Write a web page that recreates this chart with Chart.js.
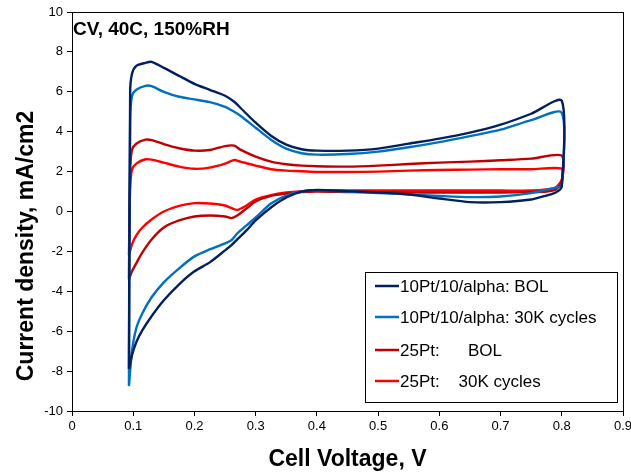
<!DOCTYPE html>
<html>
<head>
<meta charset="utf-8">
<script src="https://cdn.jsdelivr.net/npm/chart.js@4.4.1/dist/chart.umd.min.js"></script>
<style>
  html, body { margin: 0; padding: 0; background: #ffffff; }
  #wrap { width: 631px; height: 472px; position: relative; }
</style>
</head>
<body>
<div id="wrap"><canvas id="cv" width="631" height="472"></canvas></div>
<script>
// Axis ticks
const X_TICKS = [0, 0.1, 0.2, 0.3, 0.4, 0.5, 0.6, 0.7, 0.8, 0.9];
const X_TICK_LABELS = ['0', '0.1', '0.2', '0.3', '0.4', '0.5', '0.6', '0.7', '0.8', '0.9'];
const Y_TICKS = [-10, -8, -6, -4, -2, 0, 2, 4, 6, 8, 10];
const Y_TICK_LABELS = ['-10', '-8', '-6', '-4', '-2', '0', '2', '4', '6', '8', '10'];

// Series names
const SERIES = ['10Pt/10/alpha: BOL', '10Pt/10/alpha: 30K cycles', '25Pt:      BOL', '25Pt:    30K cycles'];
const COLORS = ['#002060', '#0070C0', '#C00000', '#FF0000'];

// Sweep voltages (V): anodic sweep up, then cathodic sweep back down
const V_UP = [0.093, 0.095, 0.098, 0.105, 0.12, 0.13, 0.15, 0.175, 0.2, 0.225, 0.25, 0.265, 0.275, 0.3, 0.325, 0.35, 0.375, 0.4, 0.45, 0.5, 0.55, 0.6, 0.65, 0.7, 0.75, 0.8];
const V_DOWN = [0.8, 0.79, 0.775, 0.75, 0.7, 0.65, 0.6, 0.55, 0.5, 0.45, 0.4, 0.375, 0.35, 0.325, 0.3, 0.285, 0.27, 0.26, 0.25, 0.225, 0.2, 0.175, 0.15, 0.13, 0.115, 0.105, 0.098, 0.093];

// Current density (mA/cm2), 10Pt/10/alpha BOL
const I_10PT_BOL_UP = [-7.9, 6.0, 6.9, 7.3, 7.45, 7.5, 7.2, 6.8, 6.4, 6.1, 5.8, 5.5, 5.2, 4.45, 3.8, 3.35, 3.12, 3.05, 3.05, 3.15, 3.4, 3.65, 3.95, 4.35, 4.9, 5.55];
const I_10PT_BOL_DOWN = [1.25, 0.95, 0.8, 0.6, 0.47, 0.47, 0.65, 0.85, 0.95, 1.02, 1.08, 1.0, 0.7, 0.2, -0.45, -0.95, -1.4, -1.7, -1.95, -2.55, -3.0, -3.65, -4.45, -5.25, -5.95, -6.55, -7.2, -7.9];

// Current density (mA/cm2), 10Pt/10/alpha after 30K cycles
const I_10PT_30K_UP = [-8.75, 4.5, 5.8, 6.1, 6.3, 6.28, 6.0, 5.75, 5.62, 5.48, 5.25, 5.0, 4.8, 4.2, 3.6, 3.15, 2.92, 2.85, 2.88, 3.0, 3.22, 3.48, 3.78, 4.1, 4.58, 4.95];
const I_10PT_30K_DOWN = [1.3, 1.2, 1.1, 0.92, 0.75, 0.72, 0.78, 0.86, 0.93, 1.0, 1.05, 1.0, 0.8, 0.4, -0.3, -0.7, -1.1, -1.45, -1.6, -1.9, -2.25, -2.85, -3.55, -4.3, -5.1, -5.85, -7.0, -8.75];

// Current density (mA/cm2), 25Pt BOL
const I_25PT_BOL_UP = [-3.4, 2.0, 3.1, 3.4, 3.6, 3.58, 3.38, 3.17, 3.05, 3.08, 3.28, 3.3, 3.1, 2.75, 2.5, 2.37, 2.3, 2.27, 2.25, 2.3, 2.38, 2.45, 2.5, 2.57, 2.65, 2.8];
const I_25PT_BOL_DOWN = [1.5, 1.1, 1.0, 0.97, 0.95, 0.95, 0.95, 0.96, 0.97, 0.98, 1.0, 0.97, 0.9, 0.78, 0.5, 0.15, -0.2, -0.33, -0.25, -0.2, -0.25, -0.45, -0.8, -1.4, -2.05, -2.6, -3.0, -3.4];

// Current density (mA/cm2), 25Pt after 30K cycles
const I_25PT_30K_UP = [-2.2, 1.2, 2.1, 2.4, 2.62, 2.6, 2.45, 2.25, 2.14, 2.2, 2.4, 2.58, 2.5, 2.3, 2.12, 2.05, 2.02, 1.98, 1.98, 2.0, 2.05, 2.08, 2.1, 2.12, 2.12, 2.15];
const I_25PT_30K_DOWN = [1.6, 1.2, 1.1, 1.05, 1.05, 1.05, 1.05, 1.05, 1.05, 1.05, 1.05, 1.02, 0.95, 0.82, 0.6, 0.3, 0.08, 0.18, 0.3, 0.4, 0.42, 0.28, 0.0, -0.4, -0.8, -1.2, -1.65, -2.2];

const CURVES = [
  [I_10PT_BOL_UP, I_10PT_BOL_DOWN],
  [I_10PT_30K_UP, I_10PT_30K_DOWN],
  [I_25PT_BOL_UP, I_25PT_BOL_DOWN],
  [I_25PT_30K_UP, I_25PT_30K_DOWN]
];

function loop(up, down) {
  const pts = [];
  V_UP.forEach((v, i) => pts.push({ x: v, y: up[i] }));
  V_DOWN.forEach((v, i) => pts.push({ x: v, y: down[i] }));
  return pts;
}

const datasets = CURVES.map((c, k) => ({
  label: SERIES[k],
  data: loop(c[0], c[1]),
  borderColor: COLORS[k],
  backgroundColor: COLORS[k],
  borderWidth: 2.4,
  pointRadius: 0,
  showLine: true,
  tension: 0.25,
  fill: false
}));

const FONT = '"Liberation Sans", Arial, sans-serif';

// Frame, in-plot note, legend box and axis titles
const decor = {
  id: 'decor',
  afterDatasetsDraw(chart) {
    const { ctx, chartArea: a } = chart;
    ctx.save();
    ctx.strokeStyle = '#000';
    ctx.lineWidth = 1;
    ctx.strokeRect(Math.round(a.left) + 0.5, Math.round(a.top) + 0.5,
                   Math.round(a.right - a.left), Math.round(a.bottom - a.top));

    // note inside plot
    ctx.fillStyle = '#000';
    ctx.font = 'bold 19px ' + FONT;
    ctx.textAlign = 'left';
    ctx.textBaseline = 'middle';
    ctx.fillText('CV, 40C, 150%RH', a.left + 1, a.top + 18);

    // legend
    const lx = 365, ly = 272, lw = 252, lh = 130;
    ctx.fillStyle = '#fff';
    ctx.fillRect(lx, ly, lw, lh);
    ctx.strokeStyle = '#000';
    ctx.strokeRect(lx + 0.5, ly + 0.5, lw, lh);
    const rows = [286, 317, 350, 381];
    ctx.font = '17px ' + FONT;
    ctx.textBaseline = 'middle';
    SERIES.forEach((name, k) => {
      ctx.strokeStyle = COLORS[k];
      ctx.lineWidth = 2.5;
      ctx.beginPath();
      ctx.moveTo(375, rows[k]);
      ctx.lineTo(399, rows[k]);
      ctx.stroke();
      ctx.fillStyle = '#000';
      ctx.fillText(name, 400, rows[k] + 1);
    });

    // axis titles
    ctx.font = 'bold 23px ' + FONT;
    ctx.textAlign = 'center';
    ctx.fillText('Cell Voltage, V', (a.left + a.right) / 2, 460);
    ctx.translate(27, 246);
    ctx.rotate(-Math.PI / 2);
    ctx.fillText('Current density, mA/cm2', 0, 0);
    ctx.restore();
  }
};

new Chart(document.getElementById('cv'), {
  type: 'scatter',
  data: { datasets },
  options: {
    responsive: false,
    animation: false,
    devicePixelRatio: 1,
    layout: { padding: { top: 12, right: 8, left: 0, bottom: 0 } },
    plugins: { legend: { display: false }, tooltip: { enabled: false } },
    scales: {
      x: {
        type: 'linear',
        min: 0, max: 0.9,
        afterBuildTicks: s => { s.ticks = X_TICKS.map(v => ({ value: v })); },
        afterFit: s => { s.height = 61; s.paddingLeft = 0; s.paddingRight = 0; },
        ticks: {
          color: '#000',
          font: { family: FONT, size: 13 },
          padding: 3,
          maxRotation: 0,
          autoSkip: false,
          callback: (v, i) => X_TICK_LABELS[i]
        },
        grid: { drawOnChartArea: false, drawTicks: true, tickLength: 5, color: '#000' },
        border: { display: true, color: '#000', width: 1 }
      },
      y: {
        type: 'linear',
        min: -10, max: 10,
        afterBuildTicks: s => { s.ticks = Y_TICKS.map(v => ({ value: v })); },
        afterFit: s => { s.width = 72; s.paddingTop = 0; s.paddingBottom = 0; },
        ticks: {
          color: '#000',
          font: { family: FONT, size: 13 },
          padding: 4,
          autoSkip: false,
          callback: (v, i) => Y_TICK_LABELS[i]
        },
        grid: { drawOnChartArea: false, drawTicks: true, tickLength: 5, color: '#000' },
        border: { display: true, color: '#000', width: 1 }
      }
    }
  },
  plugins: [decor]
});
</script>
</body>
</html>
